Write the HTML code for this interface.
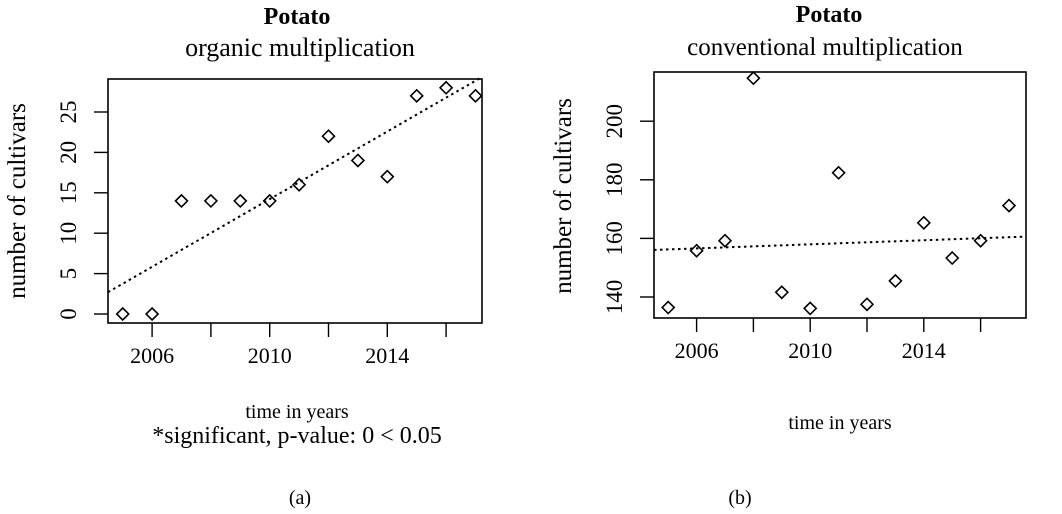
<!DOCTYPE html>
<html><head><meta charset="utf-8"><style>
body{margin:0;background:#fff}
svg{display:block;font-family:"Liberation Serif",serif}
</style></head><body>
<svg id="s" width="1062" height="514">
<text x="297" y="24" font-size="24" font-weight="bold" text-anchor="middle">Potato</text>
<text x="300" y="56" font-size="26" text-anchor="middle">organic multiplication</text>
<text x="829" y="22" font-size="24" font-weight="bold" text-anchor="middle">Potato</text>
<text x="825" y="55" font-size="25" text-anchor="middle">conventional multiplication</text>
<text transform="translate(25,201) rotate(-90)" font-size="25" text-anchor="middle">number of cultivars</text>
<text transform="translate(571,196) rotate(-90)" font-size="25" text-anchor="middle">number of cultivars</text>
<text x="297" y="418" font-size="20" text-anchor="middle">time in years</text>
<text x="297" y="443" font-size="24" text-anchor="middle">*significant, p-value:  0  &lt; 0.05</text>
<text x="840" y="429" font-size="20" text-anchor="middle">time in years</text>
<text x="300" y="504" font-size="20" text-anchor="middle">(a)</text>
<text x="740" y="504" font-size="20" text-anchor="middle">(b)</text>
<g id="ga"></g><g id="gb"></g>
</svg>
<script>
const years = [2005,2006,2007,2008,2009,2010,2011,2012,2013,2014,2015,2016,2017];
const organicValues = [0,0,14,14,14,14,16,22,19,17,27,28,27];
const conventionalValues = [136.4,155.8,159.2,214.7,141.6,136.1,182.4,137.5,145.5,165.3,153.3,159.2,171.2];
const xTicks = [2006,2008,2010,2012,2014,2016];
const xTickLabels = ["2006","2010","2014"];
const yTicksA = [0,5,10,15,20,25];
const yTicksB = [140,160,180,200];
const NS="http://www.w3.org/2000/svg";
function mk(g,t,a){const e=document.createElementNS(NS,t);for(const k in a)e.setAttribute(k,a[k]);g.appendChild(e);return e;}
function panel(gid,vals,yTicks,box,xs,ys,tickLabX,pre){
  const g=document.getElementById(gid);
  const X=v=>box.x0+(v-xs[0])*xs[1], Y=v=>ys[0]-(v-ys[1])*ys[2];
  const r=mk(g,'rect',{x:box.x0,y:box.y0,width:box.x1-box.x0,height:box.y1-box.y0,fill:'none',stroke:'#000','stroke-width':1.6});
  
  
  xTicks.forEach(t=>{const l=mk(g,'line',{x1:X(t),x2:X(t),y1:box.y1,y2:box.y1+14,stroke:'#000','stroke-width':1.4});
    
    });
  xTickLabels.forEach(t=>{const e=mk(g,'text',{x:X(+t),y:box.y1+40,'font-size':22,'text-anchor':'middle'});e.textContent=t;
    
    });
  yTicks.forEach(t=>{const l=mk(g,'line',{x1:box.x0-14,x2:box.x0,y1:Y(t),y2:Y(t),stroke:'#000','stroke-width':1.4});
    
    
    const e=mk(g,'text',{transform:`translate(${tickLabX},${Y(t)}) rotate(-90)`,'font-size':23,'text-anchor':'middle'});e.textContent=t;
    
    });
  const n=years.length,mx=years.reduce((a,b)=>a+b)/n,my=vals.reduce((a,b)=>a+b)/n;
  let sxy=0,sxx=0;years.forEach((x,i)=>{sxy+=(x-mx)*(vals[i]-my);sxx+=(x-mx)*(x-mx);});
  const b=sxy/sxx,a=my-b*mx;
  const xa=xs[0],xb=xs[0]+(box.x1-box.x0)/xs[1];
  const tl=mk(g,'line',{x1:X(xa),y1:Y(a+b*xa),x2:X(xb),y2:Y(a+b*xb),stroke:'#000','stroke-width':2,'stroke-dasharray':'2.5,3.5'});
  
  
  years.forEach((yr,i)=>{const cx=X(yr),cy=Y(vals[i]),d=6;
    const p=mk(g,'polygon',{points:`${cx},${cy-d} ${cx+d},${cy} ${cx},${cy+d} ${cx-d},${cy}`,fill:'none',stroke:'#000','stroke-width':1.6});
    
    });
}
panel('ga',organicValues,yTicksA,{x0:108,x1:482,y0:79,y1:323},[2004.5,29.4],[314,0,8.08],76,'a-');
panel('gb',conventionalValues,yTicksB,{x0:654,x1:1026,y0:72,y1:318},[2004.5,28.4],[297,140,2.93],622,'b-');
</script>
</body></html>
